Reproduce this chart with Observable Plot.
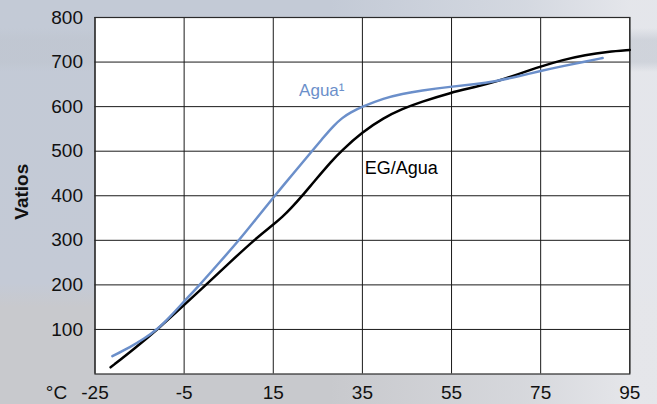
<!DOCTYPE html>
<html>
<head>
<meta charset="utf-8">
<script src="https://cdn.jsdelivr.net/npm/d3@7"></script>
<script src="https://cdn.jsdelivr.net/npm/@observablehq/plot@0.6"></script>
<style>
  html, body { margin: 0; padding: 0; }
  #wrap {
    width: 657px; height: 404px; overflow: hidden;
    background:
      linear-gradient(to bottom, rgba(0,0,0,0) 0px, rgba(0,0,0,0) 28px, rgba(190,196,206,0.55) 40px, rgba(190,196,206,0.55) 62px, rgba(0,0,0,0) 72px),
      linear-gradient(to right, rgba(228,230,235,0) 0%, rgba(228,230,235,0) 50%, rgba(226,228,233,0.55) 80%, rgba(232,233,237,0.9) 96%),
      linear-gradient(to bottom, #c3cad6 0%, #c4cad6 70%, #c8c9cd 76%, #c8c9cd 100%);
  }
  svg { display: block; }
</style>
</head>
<body>
<div id="wrap"></div>
<script>
const xTicks = [-25, -5, 15, 35, 55, 75, 95];
const yTicks = [100, 200, 300, 400, 500, 600, 700, 800];

// Agua¹ (blue) – temperature °C, watts
const aguaTemp  = [-21.1, -17, -14, -11, -8, -5, -1.5, 3, 7.3, 11, 15, 19.5, 23.7, 26, 28.6, 30.5, 32.3, 35, 39.8, 44, 48, 55, 60, 65, 70, 75, 80, 85, 88.9];
const aguaWatts = [40, 61, 79, 100, 130, 163, 200, 251, 300, 346, 396, 450, 500, 528, 558, 575, 587, 600, 619, 629, 636, 645, 650, 657, 668, 680, 691, 701, 709];

// EG/Agua (black)
const egTemp  = [-21.5, -16, -11, -5, 0, 5, 10.6, 15, 17, 19, 21.5, 24, 28.2, 30.2, 35, 39.8, 44, 48, 55, 60, 65, 70, 75, 80, 85, 90, 95];
const egWatts = [15, 58, 100, 155, 201, 248, 300, 335, 352, 372, 400, 430, 479, 500, 543, 575, 595, 610, 632, 643, 656, 673, 690, 705, 716, 723, 727];

const seriesLabels = [
  {text: "Agua¹", x: 20.8, y: 623, color: "#6b8fca", weight: "normal", size: 17},
  {text: "EG/Agua", x: 35.5, y: 449, color: "#000000", weight: "bold", size: 18}
];

const agua = aguaTemp.map((t, i) => ({t, w: aguaWatts[i]}));
const eg = egTemp.map((t, i) => ({t, w: egWatts[i]}));

const chart = Plot.plot({
  width: 657,
  height: 404,
  marginLeft: 94.5,
  marginRight: 27.7,
  marginTop: 17,
  marginBottom: 30.5,
  style: {fontFamily: "'Liberation Sans', Arial, Helvetica, sans-serif", fontSize: "19px", color: "#111", background: "transparent", overflow: "visible"},
  x: {domain: [-25, 95]},
  y: {domain: [0, 800]},
  marks: [
    Plot.frame({fill: "white", stroke: "none"}),
    Plot.gridX(xTicks, {stroke: "#1a1a1a", strokeOpacity: 1, strokeWidth: 1}),
    Plot.gridY(yTicks, {stroke: "#1a1a1a", strokeOpacity: 1, strokeWidth: 1}),
    Plot.frame({stroke: "#2a2a2a", strokeWidth: 1.2}),
    Plot.axisX(xTicks, {tickSize: 0, tickPadding: 11, label: null, fontSize: 19, fill: "#111", tickFormat: d => String(d)}),
    Plot.axisY(yTicks, {tickSize: 0, tickPadding: 12, label: null, fontSize: 19, fill: "#111", tickFormat: d => String(d)}),
    Plot.line(eg, {x: "t", y: "w", stroke: "#000", strokeWidth: 2.5, curve: "basis"}),
    Plot.line(agua, {x: "t", y: "w", stroke: "#6b8fca", strokeWidth: 2.5, curve: "basis"}),
    Plot.text(seriesLabels, {x: "x", y: "y", text: "text", fill: "color", fontWeight: "weight", fontSize: "size", textAnchor: "start", lineAnchor: "bottom"}),
    Plot.text(["°C"], {frameAnchor: "bottom-left", text: d => d, textAnchor: "end", lineAnchor: "top", dx: -27.8, dy: 11, fontSize: 19, fill: "#111"}),
    Plot.text(["Vatios"], {frameAnchor: "left", text: d => d, rotate: -90, textAnchor: "middle", lineAnchor: "middle", dx: -73, dy: -4, fontSize: 19, fontWeight: "bold", fill: "#111"})
  ]
});
document.getElementById("wrap").appendChild(chart);
</script>
</body>
</html>
